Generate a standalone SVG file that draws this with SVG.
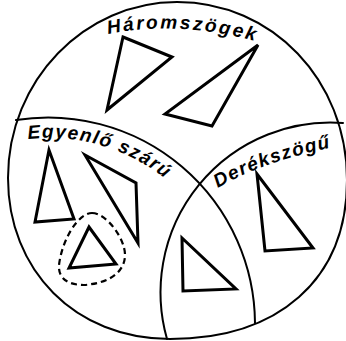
<svg xmlns="http://www.w3.org/2000/svg" width="346" height="341" viewBox="0 0 346 341">
<style>
.ln{fill:none;stroke:#000;stroke-width:2;stroke-linecap:round}
.tri{fill:none;stroke:#000;stroke-width:3;stroke-linejoin:miter}
.dash{fill:none;stroke:#000;stroke-width:2.2;stroke-dasharray:6 4}
.lbl{font-family:"Liberation Sans",Arial,sans-serif;font-style:italic;font-weight:bold;font-size:19px;fill:#000}
</style>
<defs>
<path id="p1" d="M108,34 Q180,20 258,42"/>
<path id="p2" d="M28,139 A186,186 0 0 1 168,181"/>
<path id="p3" d="M218,188 Q265,160 340,146"/>
</defs>
<rect width="346" height="341" fill="#fff"/>
<g id="boundaries">
<path class="ln" d="M177,2 C272,2 347,80 347,180 C347,280 278,339 170,339 C75,339 8,270 8,178 C8,80 85,2 177,2 Z"/>
<path class="ln" d="M16,120 A207,207 0 0 1 255,323"/>
<path class="ln" d="M343,123 A170,170 0 0 0 167,339"/>
</g>
<g id="haromszogek">
<text class="lbl"><textPath href="#p1" textLength="148" lengthAdjust="spacing">Háromszögek</textPath></text>
<polygon class="tri" points="123,37 172,57 107,110"/>
<polygon class="tri" points="258,45 165,114 212,126"/>
</g>
<g id="egyenlo">
<text class="lbl"><textPath href="#p2" textLength="146" lengthAdjust="spacing">Egyenlő szárú</textPath></text>
<polygon class="tri" points="49,150 35,222 74,219"/>
<polygon class="tri" points="85,155 136,183 138,243"/>
<polygon class="tri" points="89,227 69,268 116,264"/>
<path class="dash" d="M92,213 C106,213 125,238 125,255 C125,270 112,283 84,285 C70,285 58,280 59,265 C62,240 78,213 92,213 Z"/>
</g>
<g id="derekszogu">
<text class="lbl"><textPath href="#p3" textLength="120" lengthAdjust="spacing">Derékszögű</textPath></text>
<polygon class="tri" points="257,174 265,251 313,248"/>
</g>
<g id="metszet">
<polygon class="tri" points="182,238 183,291 236,289"/>
</g>
</svg>
